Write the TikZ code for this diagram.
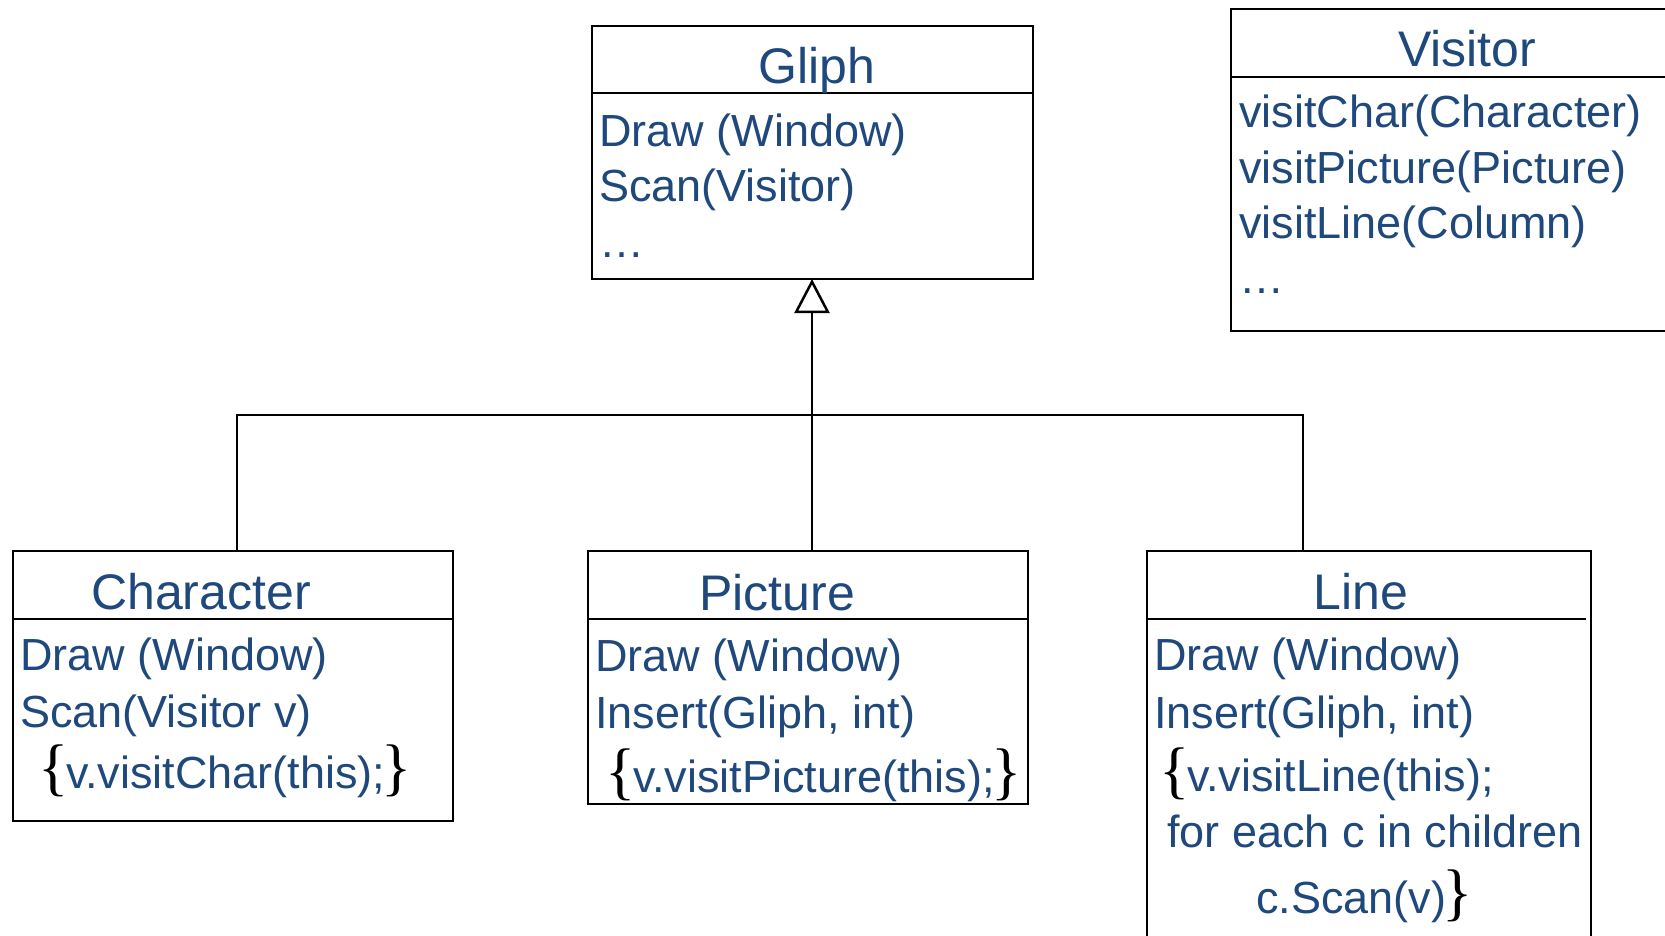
\documentclass[tikz,border=0pt]{standalone}
\usepackage{fontspec}
\setmainfont{Liberation Sans}
\newfontfamily\bracefont{Liberation Serif}
\usetikzlibrary{arrows.meta}
\definecolor{navy}{RGB}{31,73,125}
\begin{document}
\begin{tikzpicture}[x=1pt,y=-1pt,
  classbox/.style={draw=black, line width=2.9pt, fill=white, inner sep=0pt, outer sep=0pt},
  sepline/.style={line width=2.9pt},
  conn/.style={line width=2.1pt},
  title/.style={font=\fontsize{50}{60}\selectfont, text=navy, inner sep=0pt, anchor=base},
  member/.style={font=\fontsize{45}{54}\selectfont, text=navy, inner sep=0pt, anchor=base west},
  bracel/.style={font=\bracefont\fontsize{63}{66}\selectfont, text=black, inner sep=0pt, anchor=base east, xshift=-4pt},
  bracer/.style={font=\bracefont\fontsize{63}{66}\selectfont, text=black, inner sep=0pt, anchor=base west, xshift=2pt}]
\clip (0,0) rectangle (1665,936);
\useasboundingbox (0,0) rectangle (1665,936);
\fill[white] (0,0) rectangle (1665,936);

% boxes
\node[classbox, minimum width=441pt, minimum height=253pt] (gliph) at (812.5,152.5) {};
\node[classbox, minimum width=469pt, minimum height=322pt] (visitor) at (1465.5,170) {};
\node[classbox, minimum width=440pt, minimum height=270pt] (character) at (233,686) {};
\node[classbox, minimum width=440pt, minimum height=253pt] (picture) at (808,677.5) {};
\node[classbox, minimum width=444pt, minimum height=409pt] (line) at (1369,755.5) {};

% dividers
\draw[sepline] ([yshift=-67pt]gliph.north west) -- ([yshift=-67pt]gliph.north east);
\draw[sepline] ([yshift=-68pt]visitor.north west) -- ([yshift=-68pt]visitor.north east);
\draw[sepline] ([yshift=-68pt]character.north west) -- ([yshift=-68pt]character.north east);
\draw[sepline] ([yshift=-68pt]picture.north west) -- ([yshift=-68pt]picture.north east);
\draw[sepline] ([yshift=-68pt]line.north west) -- ([yshift=-68pt,xshift=-5pt]line.north east);

% connectors
\coordinate (pTop) at (812,551);
\coordinate (cTop) at (237,551);
\coordinate (lTop) at (1303,551);
\coordinate (bar) at (812,415);
\draw[conn, -{Triangle[open, length=34pt, width=35pt, line width=2.5pt]}] (pTop) -- (gliph.south -| pTop);
\draw[conn] (cTop) |- (bar) -| (lTop);

% Gliph
\node[title] (gliphT) at (817,84) {Gliph};
\node[member] (g1) at (599,147) {Draw (Window)};
\node[member] (g2) at (599,202) {Scan(Visitor)};
\node[member] (g3) at (599,257) {…};

% Visitor
\node[title] (visitorT) at (1467,67) {Visitor};
\node[member] (v1) at (1239,128) {visitChar(Character)};
\node[member] (v2) at (1239,184) {visitPicture(Picture)};
\node[member] (v3) at (1239,238) {visitLine(Column)};
\node[member] (v4) at (1239,293) {…};

% Character
\node[title] (characterT) at (201,609) {Character};
\node[member] (c1) at (20,670) {Draw (Window)};
\node[member] (c2) at (20,727) {Scan(Visitor v)};
\node[member] (c3) at (66,788) {v.visitChar(this);};
\node[bracel] (c3l) at (c3.base west) {\{\kern-7pt};
\node[bracer] (c3r) at (c3.base east) {\kern-6pt\}};

% Picture
\node[title] (pictureT) at (777,610) {Picture};
\node[member] (p1) at (595,671) {Draw (Window)};
\node[member] (p2) at (595,728) {Insert(Gliph, int)};
\node[member] (p3) at (633,792) {v.visitPicture(this);};
\node[bracel] (p3l) at (p3.base west) {\{\kern-7pt};
\node[bracer] (p3r) at (p3.base east) {\kern-6pt\}};

% Line
\node[title] (lineT) at (1361,609) {Line};
\node[member] (l1) at (1154,670) {Draw (Window)};
\node[member] (l2) at (1154,728) {Insert(Gliph, int)};
\node[member] (l3) at (1187,791) {v.visitLine(this);};
\node[bracel] (l3l) at (l3.base west) {\{\kern-7pt};
\node[member] (l4) at (1167,847) {for each c in children};
\node[member] (l5) at (1256,913) {c.Scan(v)};
\node[bracer] (l5r) at (l5.base east) {\kern-6pt\}};
\end{tikzpicture}
\end{document}
